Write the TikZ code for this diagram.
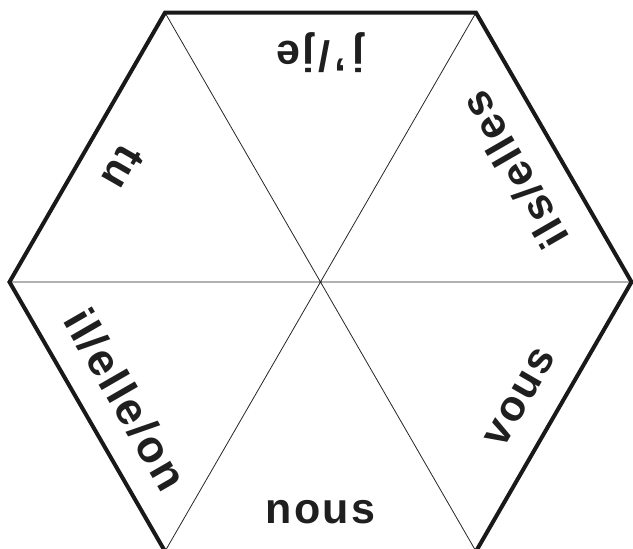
\documentclass[tikz,border=0pt]{standalone}
\usepackage{fontspec}
\setmainfont{Liberation Sans}
\newfontfamily\labfont[LetterSpace=5]{Liberation Sans}
\begin{document}
\begin{tikzpicture}[x=1pt,y=1pt,
  lab/.style={font=\labfont\fontsize{43}{43}\selectfont\bfseries, anchor=base, inner sep=0pt, text=black!88},
  spoke/.style={line width=0.8pt, draw=black!85},
  rim/.style={line width=4pt, line join=miter, draw=black!90}]
\useasboundingbox (-320.5,-267) rectangle (312.5,282);
\clip (-320.5,-267) rectangle (312.5,282);
\coordinate (O) at (0,0);
\foreach \i/\a in {1/0,2/60,3/120,4/180,5/240,6/300} \coordinate (v\i) at (\a:311);
\draw[spoke] (v1) -- (v4) (v2) -- (v5) (v3) -- (v6);
\draw[rim] (v1) -- (v2) -- (v3) -- (v4) -- (v5) -- (v6) -- cycle;
\node[lab, rotate=0]   (nous) at (-90:242) {nous};
\node[lab, rotate=60]  (vous) at (-30:242) {vous};
\node[lab, rotate=120] (ils)  at (30:239)  {ils/elles};
\node[lab, rotate=180] (je)   at (90:240)  {j\kern6pt’\kern4pt/\kern5pt j\kern2pt e};
\node[lab, rotate=240] (tu)   at (150:242) {tu};
\node[lab, rotate=300, font=\labfont\fontsize{45}{45}\selectfont\bfseries] (il) at (211:243) {il/elle/on};
\end{tikzpicture}
\end{document}
